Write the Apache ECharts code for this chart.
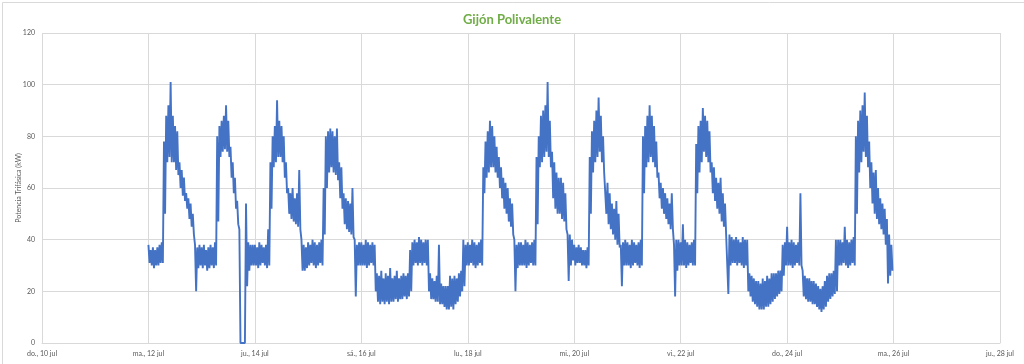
<!DOCTYPE html>
<html><head><meta charset="utf-8">
<script src="https://cdn.jsdelivr.net/npm/echarts@6/dist/echarts.min.js"></script>
<style>html,body{margin:0;padding:0;background:#fff}#c{width:1024px;height:364px}</style>
</head><body><div id="c"></div>
<script>
// X tick labels (every 2 days, from do., 10 jul)
const tickLabels = ['do., 10 jul','ma., 12 jul','ju., 14 jul','sá., 16 jul','lu., 18 jul','mi., 20 jul','vi., 22 jul','do., 24 jul','ma., 26 jul','ju., 28 jul'];
// Days with data (hourly envelope)
const dayLabels = ['12 jul','13 jul','14 jul','15 jul','16 jul','17 jul','18 jul','19 jul','20 jul','21 jul','22 jul','23 jul','24 jul','25 jul'];
const firstDayHour = 48; // 12 jul 00:00, in hours after 10 jul 00:00
// Upper edge of the noisy power band, kW, hours 0..23 for each day
const highEnvelope = [
 [38,36,37,36,37,38,39, 78,88,92,101,88,84,82,70,67,64,58,56,54,50,38,37,38],
 [37,38,36,37,38,37,39, 80,84,86,88,92,86,76,70,64,55,44,0,0,54,39,38,38],
 [38,37,39,38,37,38,44, 70,80,84,94,86,84,80,70,60,58,60,56,58,67,40,38,37],
 [39,38,40,39,38,39,40, 60,80,82,83,82,80,83,70,68,58,56,55,54,60,40,38,39],
 [39,38,40,39,38,39,38, 27,26,28,25,27,26,29,25,26,28,25,26,27,26,27,36,39],
 [40,39,41,40,39,40,40, 27,25,24,26,38,23,22,22,22,26,25,26,25,27,28,40,38],
 [39,38,40,39,38,39,40, 68,78,82,86,84,80,76,72,68,64,62,60,56,54,40,38,39],
 [39,38,40,39,38,39,40, 72,80,88,90,92,101,86,74,70,66,64,64,62,58,42,42,40],
 [38,37,38,37,36,36,37, 72,82,86,90,95,88,80,66,62,58,54,52,55,50,38,39,40],
 [39,38,40,39,38,39,40, 80,84,88,92,88,84,78,66,62,60,58,56,54,58,38,40,40],
 [39,46,40,39,38,39,40, 77,84,86,91,88,86,82,70,68,64,62,64,58,54,42,42,41],
 [40,41,40,39,41,40,40, 27,26,25,24,24,23,25,24,26,25,27,27,27,28,28,38,39],
 [45,39,40,39,38,39,58, 28,26,25,25,24,24,23,22,21,22,24,26,27,27,28,40,40],
 [40,39,45,40,39,40,41, 80,86,90,92,97,88,78,70,66,67,60,56,54,52,48,42,38]
];
// Lower edge of the band, kW
const lowEnvelope = [
 [31,30,29,30,30,31,31, 50,70,72,70,70,67,65,60,57,55,52,48,45,42,20,29,30],
 [29,30,28,29,30,29,30, 47,72,74,75,74,72,64,58,52,46,0,0,0,22,28,30,30],
 [30,29,30,31,30,29,30, 52,68,70,72,72,70,64,58,50,48,47,46,45,44,28,28,29],
 [30,31,30,29,30,31,30, 42,60,66,68,66,65,63,56,52,46,44,43,42,41,18,30,30],
 [30,30,29,30,31,30,20, 16,15,16,15,16,15,16,16,17,16,17,17,18,17,18,20,30],
 [31,30,31,30,31,30,20, 17,17,16,16,15,15,14,13,13,14,13,15,16,18,20,22,30],
 [30,31,30,29,30,31,30, 58,64,66,68,68,66,64,60,56,52,50,47,45,42,20,29,30],
 [30,30,29,30,31,30,30, 46,68,70,72,74,72,68,56,52,50,50,48,47,44,24,30,32],
 [30,31,31,30,30,29,30, 50,66,70,72,74,70,66,50,46,44,42,40,38,37,22,30,30],
 [30,29,30,31,30,29,30, 58,68,70,72,70,68,64,56,52,50,48,46,44,44,18,28,30],
 [30,30,29,30,31,30,30, 58,66,70,74,72,70,66,58,55,52,50,47,45,42,19,30,31],
 [31,30,31,30,29,30,20, 18,16,15,14,13,13,13,14,14,15,16,17,18,19,20,26,30],
 [30,30,29,30,31,30,30, 18,17,16,16,15,15,14,13,12,13,14,16,17,18,19,20,30],
 [30,31,30,29,30,31,30, 50,66,70,74,72,68,60,54,50,48,46,44,42,38,23,26,28]
];

const seriesData = [];
highEnvelope.forEach((row, d) => {
  row.forEach((hi, h) => {
    const x = firstDayHour + d * 24 + h;
    seriesData.push([x, hi]);
    seriesData.push([x + 0.5, lowEnvelope[d][h]]);
  });
});

const chart = echarts.init(document.getElementById('c'), null, {renderer: 'canvas'});
const grey = '#d9d9d9';
const font = 'Lato';
chart.setOption({
  animation: false,
  backgroundColor: '#ffffff',
  title: {
    text: 'Gijón Polivalente', left: 'center', top: 8,
    textStyle: {color: '#70AD47', fontSize: 13, fontWeight: 'bold', fontFamily: font}
  },
  graphic: [{type: 'rect', left: 0, top: 0, shape: {x: 0.5, y: 0.5, width: 1023, height: 363},
    style: {fill: 'none', stroke: grey, lineWidth: 1}, silent: true}],
  grid: {left: 42, right: 24, top: 33, bottom: 21, containLabel: false, outerBoundsMode: 'none'},
  xAxis: {
    type: 'value', min: 0, max: 432, interval: 48,
    axisLine: {show: true, lineStyle: {color: grey}},
    axisTick: {show: false},
    axisLabel: {formatter: v => tickLabels[Math.round(v / 48)], fontSize: 7, color: '#595959', margin: 7, fontFamily: font},
    splitLine: {show: true, lineStyle: {color: grey, width: 1}}
  },
  yAxis: {
    type: 'value', min: 0, max: 120, interval: 20,
    name: 'Potencia Trifásica (kW)', nameLocation: 'middle', nameGap: 20, nameMoveOverlap: false,
    nameTextStyle: {fontSize: 7, color: '#595959', fontFamily: font},
    axisLine: {show: false}, axisTick: {show: false},
    axisLabel: {fontSize: 7, color: '#595959', margin: 7, fontFamily: font},
    splitLine: {show: true, lineStyle: {color: grey, width: 1}}
  },
  series: [{
    type: 'line', data: seriesData, showSymbol: false, symbol: 'none',
    lineStyle: {color: '#4472C4', width: 1.9}, itemStyle: {color: '#4472C4'}
  }]
});
</script></body></html>
